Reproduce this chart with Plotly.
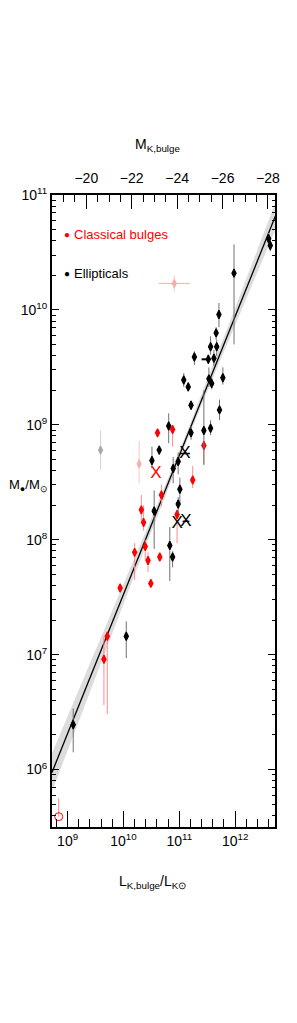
import plotly.graph_objects as go

# ---------------- data (log10 units) ----------------
# Ellipticals (black filled)
ell_logL = [12.60, 12.63, 11.98, 11.71, 11.66, 11.56, 11.67, 11.27, 11.62, 11.52,
            11.08, 11.16, 11.53, 11.58, 11.78, 11.21, 11.72, 10.81, 11.21, 11.44,
            11.56, 10.64, 10.51, 10.89, 10.98, 11.01, 10.98, 10.55, 10.83, 10.88,
            10.05, 9.10]
ell_logM = [10.62, 10.56, 10.32, 9.96, 9.80, 9.68, 9.68, 9.59, 9.58, 9.57,
            9.39, 9.33, 9.40, 9.36, 9.41, 9.17, 9.13, 8.99, 8.93, 8.95,
            8.97, 8.78, 8.69, 8.62, 8.68, 8.44, 8.31, 8.25, 7.95, 7.85,
            7.16, 6.39]
ell_up = [0.05, 0.05, 0.25, 0.10, 0.05, 0.09, 0.06, 0.05, 0.07, 0.04,
          0.06, 0.04, 0.10, 0.05, 0.09, 0.04, 0.09, 0.11, 0.06, 0.35,
          0.07, 0.04, 0.12, 0.10, 0.08, 0.10, 0.06, 0.18, 0.16, 0.05,
          0.13, 0.14]
ell_dn = [0.05, 0.05, 0.62, 0.11, 0.06, 0.07, 0.08, 0.07, 0.07, 0.04,
          0.06, 0.04, 0.07, 0.05, 0.06, 0.04, 0.09, 0.15, 0.06, 0.30,
          0.06, 0.04, 0.07, 0.13, 0.11, 0.12, 0.08, 0.33, 0.31, 0.09,
          0.19, 0.24]
ell_xlo = [0, 0, 0, 0, 0, 0, 0, 0, 0, 0.12,
           0, 0, 0, 0, 0, 0, 0, 0, 0, 0,
           0, 0, 0, 0, 0, 0, 0, 0, 0, 0,
           0, 0]
ell_xhi = [0, 0, 0, 0, 0, 0, 0, 0, 0, 0.03,
           0, 0, 0, 0, 0, 0, 0, 0, 0, 0,
           0, 0, 0, 0, 0, 0, 0, 0, 0, 0,
           0, 0]

# Ellipticals drawn as crosses
ellx_logL = [11.10, 10.96, 11.12]
ellx_logM = [8.75, 8.14, 8.16]
ellx_xerr = [0.09, 0.0, 0.06]

# Classical bulges (red filled)
cb_logL = [10.61, 10.88, 11.44, 11.24, 10.68, 10.96, 10.32, 10.36, 10.39, 10.20,
           10.44, 10.65, 10.49, 9.94, 9.71, 9.65]
cb_logM = [8.93, 8.96, 8.82, 8.52, 8.39, 8.22, 8.26, 8.15, 7.94, 7.89,
           7.82, 7.85, 7.62, 7.58, 7.16, 6.96]
cb_up = [0.03, 0.03, 0.04, 0.12, 0.09, 0.04, 0.13, 0.15, 0.06, 0.08,
         0.07, 0.03, 0.03, 0.03, 0.04, 0.20]
cb_dn = [0.03, 0.15, 0.16, 0.07, 0.10, 0.25, 0.11, 0.07, 0.12, 0.24,
         0.10, 0.03, 0.03, 0.03, 0.68, 0.40]

# Classical bulge drawn as a cross
cbx_logL = [10.58]
cbx_logM = [8.57]

# Classical bulge, open symbol
cbo_logL = [8.84]
cbo_logM = [5.59]
cbo_up = [0.16]

# Pale (excluded) classical bulges
pale_logL = [10.91, 10.28]
pale_logM = [10.23, 8.66]
pale_up = [0.07, 0.20]
pale_dn = [0.07, 0.17]
pale_xerr = [0.28, 0.0]

# Grey point
grey_logL = [9.59]
grey_logM = [8.78]
grey_err = [0.17]

# Fit: log M = fit_a + fit_b * (log L - 11)
fit_a = 8.734
fit_b = 1.21
fit_logL = [8.72, 12.72]
band_logL = [8.72, 9.2, 9.7, 10.2, 10.7, 11.1, 11.5, 12.0, 12.4, 12.72]
band_hw = [0.167, 0.135, 0.103, 0.073, 0.048, 0.040, 0.048, 0.073, 0.097, 0.117]

# Axis ticks
x_ticks = [9, 10, 11, 12]
y_ticks = [6, 7, 8, 9, 10, 11]
mk_ticks = [-20, -22, -24, -26, -28]

# ---------------- helpers ----------------
def lin(v):
    return [10 ** a for a in v]

def plus(c, e):
    return [10 ** (a + d) - 10 ** a for a, d in zip(c, e)]

def minus(c, e):
    return [10 ** a - 10 ** (a - d) for a, d in zip(c, e)]

FONT = "Liberation Sans, Arial, sans-serif"
RED = "#ff0000"
MSIZE = 6

fig = go.Figure()

# confidence band
band_top = [fit_a + fit_b * (x - 11) + h for x, h in zip(band_logL, band_hw)]
band_bot = [fit_a + fit_b * (x - 11) - h for x, h in zip(band_logL, band_hw)]
fig.add_trace(go.Scatter(x=lin(band_logL) + lin(band_logL[::-1]),
                         y=lin(band_top) + lin(band_bot[::-1]),
                         fill="toself", fillcolor="#dcdcdc", mode="lines",
                         line=dict(width=0), hoverinfo="skip", showlegend=False))
fig.add_trace(go.Scatter(x=lin(fit_logL),
                         y=lin([fit_a + fit_b * (x - 11) for x in fit_logL]),
                         mode="lines", line=dict(color="black", width=1.3),
                         hoverinfo="skip", showlegend=False))

# grey point
fig.add_trace(go.Scatter(x=lin(grey_logL), y=lin(grey_logM), mode="markers",
                         marker=dict(symbol="diamond-tall", size=MSIZE, color="#a8a8a8",
                                     line=dict(color="#a8a8a8", width=1)),
                         error_y=dict(type="data", symmetric=False,
                                      array=plus(grey_logM, grey_err),
                                      arrayminus=minus(grey_logM, grey_err),
                                      color="#d0d0d0", thickness=1, width=0),
                         showlegend=False))

# pale red points
fig.add_trace(go.Scatter(x=lin(pale_logL), y=lin(pale_logM), mode="markers",
                         marker=dict(symbol="diamond-tall", size=MSIZE, color="#ffaaaa",
                                     line=dict(color="#ffaaaa", width=1)),
                         error_y=dict(type="data", symmetric=False,
                                      array=plus(pale_logM, pale_up),
                                      arrayminus=minus(pale_logM, pale_dn),
                                      color="#ffc4c4", thickness=1, width=0),
                         error_x=dict(type="data", symmetric=False,
                                      array=plus(pale_logL, pale_xerr),
                                      arrayminus=minus(pale_logL, pale_xerr),
                                      color="#ffb4b4", thickness=1.2, width=0),
                         showlegend=False))

# classical bulges
fig.add_trace(go.Scatter(x=lin(cb_logL), y=lin(cb_logM), mode="markers",
                         marker=dict(symbol="diamond-tall", size=MSIZE, color=RED,
                                     line=dict(color=RED, width=1.2)),
                         error_y=dict(type="data", symmetric=False,
                                      array=plus(cb_logM, cb_up),
                                      arrayminus=minus(cb_logM, cb_dn),
                                      color="#ff8c8c", thickness=1, width=0),
                         showlegend=False))
fig.add_trace(go.Scatter(x=lin(cbx_logL), y=lin(cbx_logM), mode="text",
                         text=["X"] * len(cbx_logL), textposition="middle center",
                         textfont=dict(family=FONT, size=17, color=RED),
                         showlegend=False))
fig.add_trace(go.Scatter(x=lin(cbo_logL), y=lin(cbo_logM), mode="markers",
                         marker=dict(symbol="circle-open", size=8, color=RED,
                                     line=dict(color=RED, width=1)),
                         error_y=dict(type="data", symmetric=False,
                                      array=plus(cbo_logM, cbo_up),
                                      arrayminus=[0] * len(cbo_logM),
                                      color="#ff8c8c", thickness=1, width=0),
                         cliponaxis=False, showlegend=False))

# ellipticals
fig.add_trace(go.Scatter(x=lin(ell_logL), y=lin(ell_logM), mode="markers",
                         marker=dict(symbol="diamond-tall", size=MSIZE, color="black",
                                     line=dict(color="black", width=1.2)),
                         error_y=dict(type="data", symmetric=False,
                                      array=plus(ell_logM, ell_up),
                                      arrayminus=minus(ell_logM, ell_dn),
                                      color="#707070", thickness=1, width=0),
                         error_x=dict(type="data", symmetric=False,
                                      array=plus(ell_logL, ell_xhi),
                                      arrayminus=minus(ell_logL, ell_xlo),
                                      color="black", thickness=2, width=0),
                         showlegend=False))
fig.add_trace(go.Scatter(x=lin(ellx_logL), y=lin(ellx_logM), mode="text",
                         text=["X"] * len(ellx_logL), textposition="middle center",
                         textfont=dict(family=FONT, size=17, color="black"),
                         error_x=dict(type="data", symmetric=False,
                                      array=plus(ellx_logL, ellx_xerr),
                                      arrayminus=minus(ellx_logL, ellx_xerr),
                                      color="black", thickness=1.5, width=0),
                         showlegend=False))

# empty trace so that the top (magnitude) axis is drawn
fig.add_trace(go.Scatter(x=[], y=[], xaxis="x2", yaxis="y", mode="markers",
                         hoverinfo="skip", showlegend=False))

# ---------------- axes ----------------
x_minor = [10 ** (k + 0.2 * j) for k in range(8, 13) for j in range(1, 5)]
y_minor = [m * 10 ** k for k in range(5, 11) for m in range(2, 10)]
mk_minor = [-18.5 - 0.5 * i for i in range(20) if (-18.5 - 0.5 * i) not in mk_ticks]

axis_common = dict(showline=True, linecolor="black", linewidth=2, showgrid=False,
                   zeroline=False, ticks="inside", tickcolor="black", tickwidth=1,
                   tickfont=dict(family=FONT, size=14, color="black"))

fig.update_layout(
    width=281, height=1000,
    margin=dict(l=44, r=9, t=187, b=181, pad=0),
    paper_bgcolor="white", plot_bgcolor="white",
    showlegend=False,
    xaxis=dict(type="log", range=[8.72, 12.714],
               tickvals=[10 ** v for v in x_ticks],
               ticktext=["10<sup>%d</sup>" % v for v in x_ticks],
               ticklen=16,
               minor=dict(tickvals=x_minor, ticklen=8, ticks="inside",
                          tickcolor="black", tickwidth=1),
               **axis_common),
    xaxis2=dict(overlaying="x", side="top", range=[-18.49, -28.31],
                tickvals=mk_ticks, ticktext=["\u2212%d" % (-v) for v in mk_ticks],
                ticklen=14, ticklabelstandoff=4,
                minor=dict(tickvals=mk_minor, ticklen=7, ticks="inside",
                           tickcolor="black", tickwidth=1),
                **axis_common),
    yaxis=dict(type="log", range=[5.5, 11], mirror="ticks",
               tickvals=[10 ** v for v in y_ticks],
               ticktext=["10<sup>%d</sup>" % v for v in y_ticks],
               ticklen=7,
               minor=dict(tickvals=y_minor, ticklen=3.5, ticks="inside",
                          tickcolor="black", tickwidth=1),
               **axis_common),
)

ann_font = dict(family=FONT, size=14, color="black")
fig.add_annotation(text="M<sub>\u25cf</sub>/M<sub>\u2299</sub>", xref="paper", yref="paper",
                   x=-0.01, y=0.541, xanchor="right", yanchor="middle", showarrow=False,
                   font=dict(family=FONT, size=13, color="black"))
fig.add_annotation(text="L<sub>K,bulge</sub>/L<sub>K\u2299</sub>", xref="paper", yref="paper",
                   x=0.451, y=-0.087, xanchor="center", yanchor="middle", showarrow=False,
                   font=ann_font)
fig.add_annotation(text="M<sub>K,bulge</sub>", xref="paper", yref="paper",
                   x=0.473, y=1.079, xanchor="center", yanchor="middle", showarrow=False,
                   font=ann_font)
# legend
fig.add_annotation(text="\u25cf", xref="paper", yref="paper", x=0.069, y=0.937,
                   xanchor="center", yanchor="middle", showarrow=False,
                   font=dict(family=FONT, size=10, color=RED))
fig.add_annotation(text="Classical bulges", xref="paper", yref="paper", x=0.088, y=0.937,
                   xanchor="left", yanchor="middle", showarrow=False,
                   font=dict(family=FONT, size=13, color=RED))
fig.add_annotation(text="\u25cf", xref="paper", yref="paper", x=0.069, y=0.876,
                   xanchor="center", yanchor="middle", showarrow=False,
                   font=dict(family=FONT, size=10, color="black"))
fig.add_annotation(text="Ellipticals", xref="paper", yref="paper", x=0.088, y=0.876,
                   xanchor="left", yanchor="middle", showarrow=False,
                   font=dict(family=FONT, size=13, color="black"))

fig.write_html("out.html")
